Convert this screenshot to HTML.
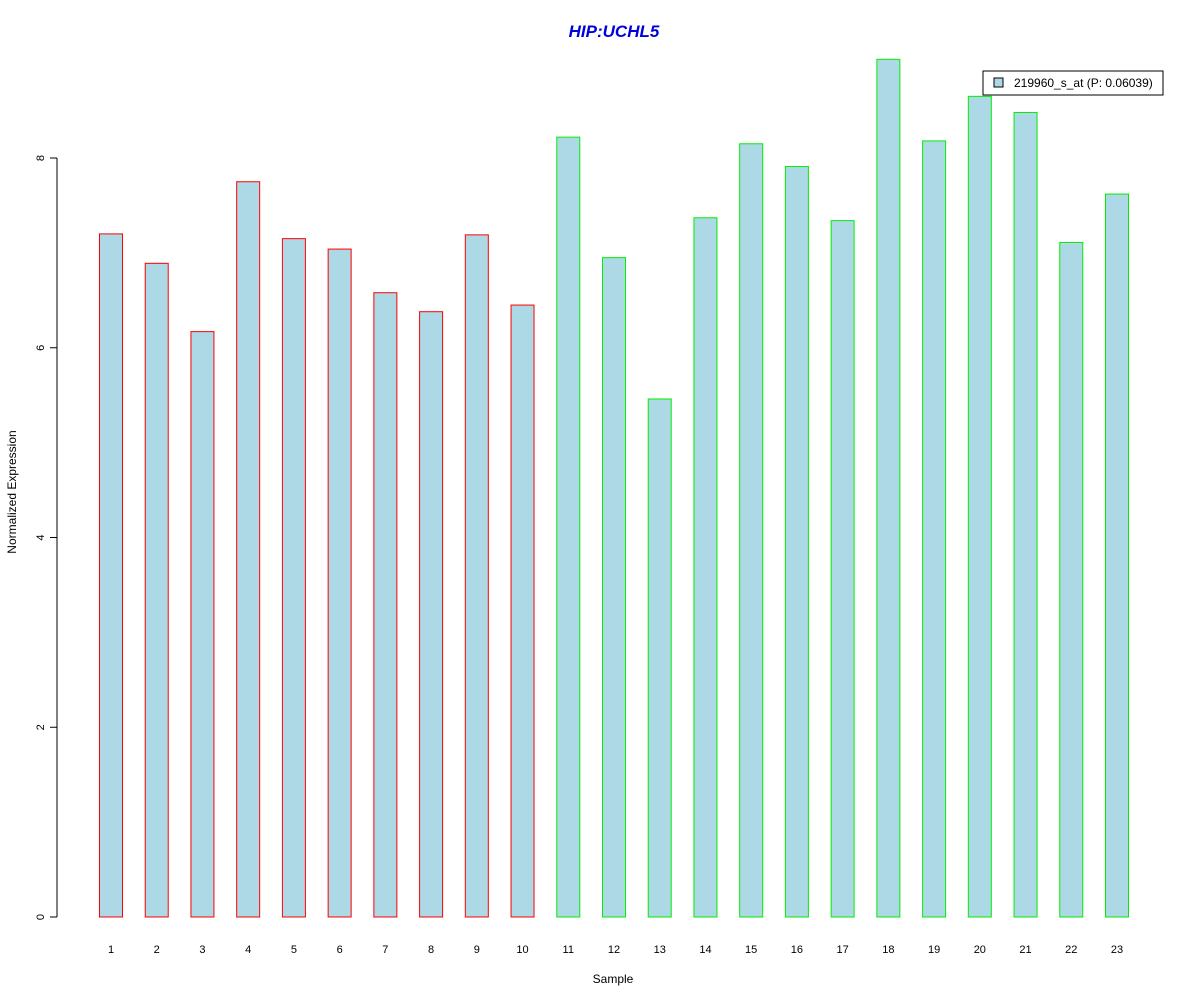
<!DOCTYPE html>
<html><head><meta charset="utf-8"><style>
html,body{margin:0;padding:0;background:#fff;}
svg{display:block;font-family:"Liberation Sans",Arial,sans-serif;}
</style></head><body>
<svg id="chart" width="1200" height="1000" viewBox="0 0 1200 1000">
<text x="614" y="37" text-anchor="middle" font-size="17" font-weight="bold" font-style="italic" fill="#0000dd">HIP:UCHL5</text>
<text x="613" y="983" text-anchor="middle" font-size="12">Sample</text>
<text transform="translate(16,492) rotate(-90)" text-anchor="middle" font-size="12">Normalized Expression</text>
<g id="yaxis"></g>
<g id="bars"></g>
<g id="xlabels"></g>
<g>
<rect x="983" y="71" width="180" height="24" fill="#fff" stroke="#000" stroke-width="1"/>
<rect x="994" y="78" width="9" height="9" fill="#add8e6" stroke="#000" stroke-width="1"/>
<text x="1014" y="87" font-size="12">219960_s_at (P: 0.06039)</text>
</g>
</svg>
<script>
const categories = ["1","2","3","4","5","6","7","8","9","10","11","12","13","14","15","16","17","18","19","20","21","22","23"];
const values = [7.20,6.89,6.17,7.75,7.15,7.04,6.58,6.38,7.19,6.45,8.22,6.95,5.46,7.37,8.15,7.91,7.34,9.04,8.18,8.65,8.48,7.11,7.62];
const groups = ["a","a","a","a","a","a","a","a","a","a","b","b","b","b","b","b","b","b","b","b","b","b","b"];
const yTicks = [0,2,4,6,8];
const NS="http://www.w3.org/2000/svg";
const y0=917, pxPerUnit=94.875;
const yScale=v=>y0-v*pxPerUnit;
const xScale=i=>111+i*(1117-111)/22;
const barW=23;
const yaxis=document.getElementById('yaxis');
const l=document.createElementNS(NS,'line');
l.setAttribute('x1',57);l.setAttribute('x2',57);
l.setAttribute('y1',yScale(yTicks[0]));l.setAttribute('y2',yScale(yTicks[yTicks.length-1]));
l.setAttribute('stroke','#000');


yaxis.appendChild(l);
yTicks.forEach(t=>{
  const tk=document.createElementNS(NS,'line');
  tk.setAttribute('x1',50);tk.setAttribute('x2',57);
  tk.setAttribute('y1',yScale(t));tk.setAttribute('y2',yScale(t));
  tk.setAttribute('stroke','#000');
  
  
  yaxis.appendChild(tk);
  const tx=document.createElementNS(NS,'text');
  tx.setAttribute('transform',`translate(44,${yScale(t)}) rotate(-90)`);
  tx.setAttribute('text-anchor','middle');
  tx.setAttribute('font-size','11');
  tx.textContent=t;
  
  
  yaxis.appendChild(tx);
});
const bars=document.getElementById('bars'), xl=document.getElementById('xlabels');
values.forEach((v,i)=>{
  const r=document.createElementNS(NS,'rect');
  const cx=xScale(i);
  r.setAttribute('x',cx-barW/2);r.setAttribute('width',barW);
  r.setAttribute('y',yScale(v));r.setAttribute('height',y0-yScale(v));
  r.setAttribute('fill','#add8e6');
  r.setAttribute('stroke',groups[i]==='a'?'#ff0000':'#00ee00');
  
  
  bars.appendChild(r);
  const tx=document.createElementNS(NS,'text');
  tx.setAttribute('x',cx);tx.setAttribute('y',953);
  tx.setAttribute('text-anchor','middle');tx.setAttribute('font-size','11');
  tx.textContent=categories[i];
  
  
  xl.appendChild(tx);
});
</script>
</body></html>
